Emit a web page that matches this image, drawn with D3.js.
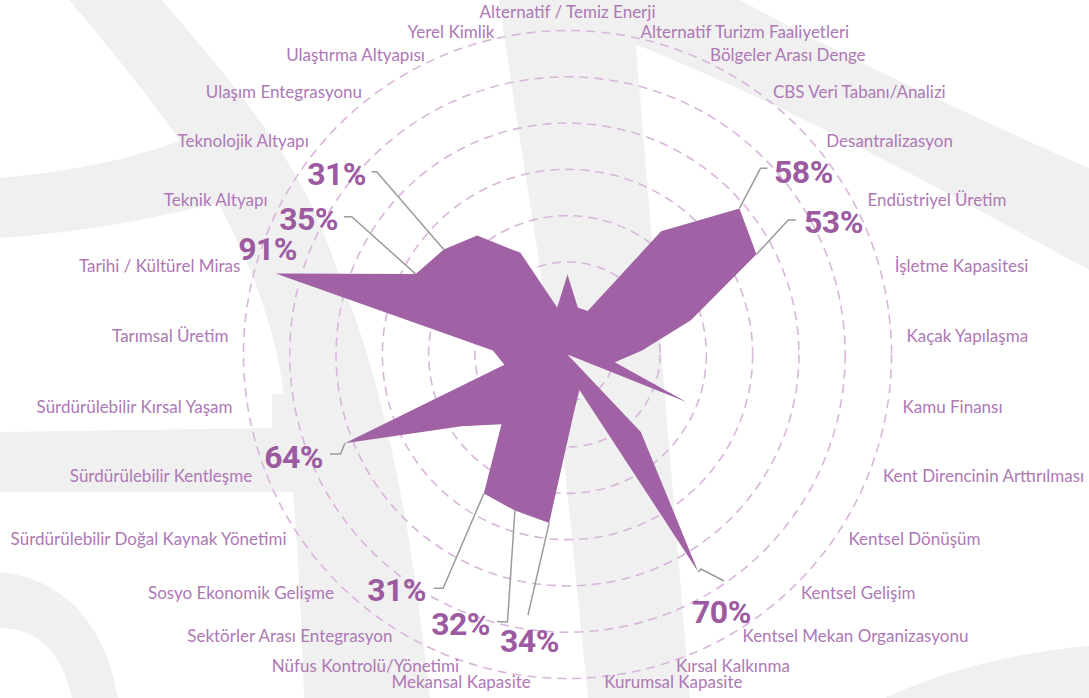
<!DOCTYPE html>
<html>
<head>
<meta charset="utf-8">
<script src="https://cdn.jsdelivr.net/npm/d3@7"></script>
<style>
  body { margin: 0; background: #fff; }
  svg { display: block; }
  .cat { font-family: Lato, "Open Sans", sans-serif; font-size: 17px; fill: #ae78b5; }
  .pct { font-family: Roboto, "Liberation Sans", sans-serif; font-weight: 700; font-size: 32px; fill: #9c5aa0; letter-spacing: -0.5px; }
</style>
</head>
<body>
<svg id="chart"></svg>
<script>
// categories clockwise from the top
const categories = [
  "Alternatif / Temiz Enerji", "Alternatif Turizm Faaliyetleri", "Bölgeler Arası Denge",
  "CBS Veri Tabanı/Analizi", "Desantralizasyon", "Endüstriyel Üretim", "İşletme Kapasitesi",
  "Kaçak Yapılaşma", "Kamu Finansı", "Kent Direncinin Arttırılması", "Kentsel Dönüşüm",
  "Kentsel Gelişim", "Kentsel Mekan Organizasyonu", "Kırsal Kalkınma", "Kurumsal Kapasite",
  "Mekansal Kapasite", "Nüfus Kontrolü/Yönetimi", "Sektörler Arası Entegrasyon",
  "Sosyo Ekonomik Gelişme", "Sürdürülebilir Doğal Kaynak Yönetimi", "Sürdürülebilir Kentleşme",
  "Sürdürülebilir Kırsal Yaşam", "Tarımsal Üretim", "Tarihi / Kültürel Miras", "Teknik Altyapı",
  "Teknolojik Altyapı", "Ulaşım Entegrasyonu", "Ulaştırma Altyapısı", "Yerel Kimlik"
];
// share (%) per category
const values = [15, 9, 9, 29, 58, 53, 24, 14, 9, 24, 0, 20, 70, 7, 11, 34, 32, 31, 18, 24, 64, 12, 14, 91, 35, 31, 28, 21, 9];
const ringSteps = [1, 2, 3, 4, 5, 6, 7];
// categories that get a big % callout
const highlighted = [25, 24, 23, 4, 5, 20, 12, 17, 16, 15];

// callout placement (text anchor + leader elbow), the leader ends on the data point
const calloutLayout = {
  25: { x: 366, y: 185, anchor: "end", leader: [[371.7, 171.7], [376.7, 171.7]] },
  24: { x: 338, y: 230, anchor: "end", leader: [[344, 216.7], [351.7, 216.7]] },
  23: { x: 297, y: 260, anchor: "end", leader: [] },
  4:  { x: 774, y: 183, anchor: "start", leader: [[767.5, 168.3], [760.5, 168.3]] },
  5:  { x: 804, y: 233, anchor: "start", leader: [[796, 220], [788.3, 220]] },
  20: { x: 323, y: 468, anchor: "end", leader: [[330, 454], [340.6, 454]] },
  12: { x: 692, y: 623, anchor: "start", leader: [[724, 581], [701, 569]] },
  17: { x: 426, y: 601, anchor: "end", leader: [[433.8, 588.3], [443.2, 588.3]] },
  16: { x: 490, y: 635, anchor: "end", leader: [[497, 621.7], [507.5, 621.7]] },
  15: { x: 500, y: 652, anchor: "start", leader: [[528, 615]] }
};

const width = 1089, height = 698;
const cx = 567.5, cy = 354.5;
const outer = 324;
const labelRx = 339.5, labelRy = 329.5;

const svg = d3.select("#chart").attr("width", width).attr("height", height);

// light grey watermark shapes in the background
const bg = svg.append("g").attr("fill", "#f0f0f0");
bg.append("path").attr("d", "M69,0 L162,0 C230,80 300,160 330,250 C360,330 400,420 430,698 L304,698 C300,560 290,440 282,380 C268,300 240,240 200,170 C160,110 120,60 69,0 Z");
bg.append("path").attr("d", "M0,178 C90,170 170,150 215,125 L262,190 C180,215 90,232 0,238 Z");
bg.append("path").attr("d", "M0,432 L272,428 L272,394 L300,394 L305,492 L0,492 Z");
bg.append("path").attr("d", "M0,572 C60,578 105,620 118,698 L72,698 C62,650 35,628 0,628 Z");
bg.append("path").attr("d", "M499,0 L632,0 L690,698 L588,698 L560,420 C548,300 520,150 499,0 Z");
bg.append("path").attr("d", "M620,0 L740,0 C850,60 980,120 1089,168 L1089,270 C960,200 800,110 630,42 Z");
bg.append("path").attr("d", "M885,698 C950,668 1020,652 1089,646 L1089,698 Z");

const g = svg.append("g").attr("transform", "translate(" + cx + "," + cy + ")");

const angle = d3.scaleLinear().domain([0, categories.length]).range([0, 2 * Math.PI]);
// radial scale
const rScale = d3.scaleLinear().domain([0, 30, 100]).range([0, 160, outer]);
const ringScale = d3.scaleLinear().domain([0, ringSteps.length]).range([0, outer]);

// dashed rings
g.selectAll("circle.ring")
  .data(ringSteps)
  .enter()
  .append("circle")
  .attr("class", "ring")
  .attr("r", d => ringScale(d))
  .attr("fill", "none")
  .attr("stroke", "#d8b6db")
  .attr("stroke-width", 1.6)
  .attr("stroke-dasharray", "9,6");

// the shape
const radar = d3.lineRadial()
  .angle((d, i) => angle(i))
  .radius(d => rScale(d))
  .curve(d3.curveLinearClosed);

g.append("path")
  .datum(values)
  .attr("d", radar)
  .attr("fill", "#a062a5");

function point(i) {
  const a = angle(i), r = rScale(values[i]);
  return [cx + r * Math.sin(a), cy - r * Math.cos(a)];
}

// category labels sit on a slightly flattened ellipse
svg.append("g")
  .selectAll("text")
  .data(categories)
  .enter()
  .append("text")
  .attr("class", "cat")
  .attr("x", (d, i) => cx + labelRx * Math.sin(angle(i)))
  .attr("y", (d, i) => cy - labelRy * Math.cos(angle(i)))
  .attr("dy", (d, i) => i === 0 ? "-0.4em" : "0.32em")
  .attr("text-anchor", (d, i) => {
    const a = angle(i);
    if (i === 0) return "middle";
    return a < Math.PI ? "start" : "end";
  })
  .text(d => d);

// leaders
const line = d3.line();
svg.append("g")
  .selectAll("path")
  .data(highlighted.filter(i => calloutLayout[i].leader.length))
  .enter()
  .append("path")
  .attr("d", i => line(calloutLayout[i].leader.concat([point(i)])))
  .attr("fill", "none")
  .attr("stroke", "#9b9b9b")
  .attr("stroke-width", 1.5);

// big % callouts
svg.append("g")
  .selectAll("text")
  .data(highlighted)
  .enter()
  .append("text")
  .attr("class", "pct")
  .attr("x", i => calloutLayout[i].x)
  .attr("y", i => calloutLayout[i].y)
  .attr("text-anchor", i => calloutLayout[i].anchor)
  .text(i => values[i] + "%");
</script>
</body>
</html>
